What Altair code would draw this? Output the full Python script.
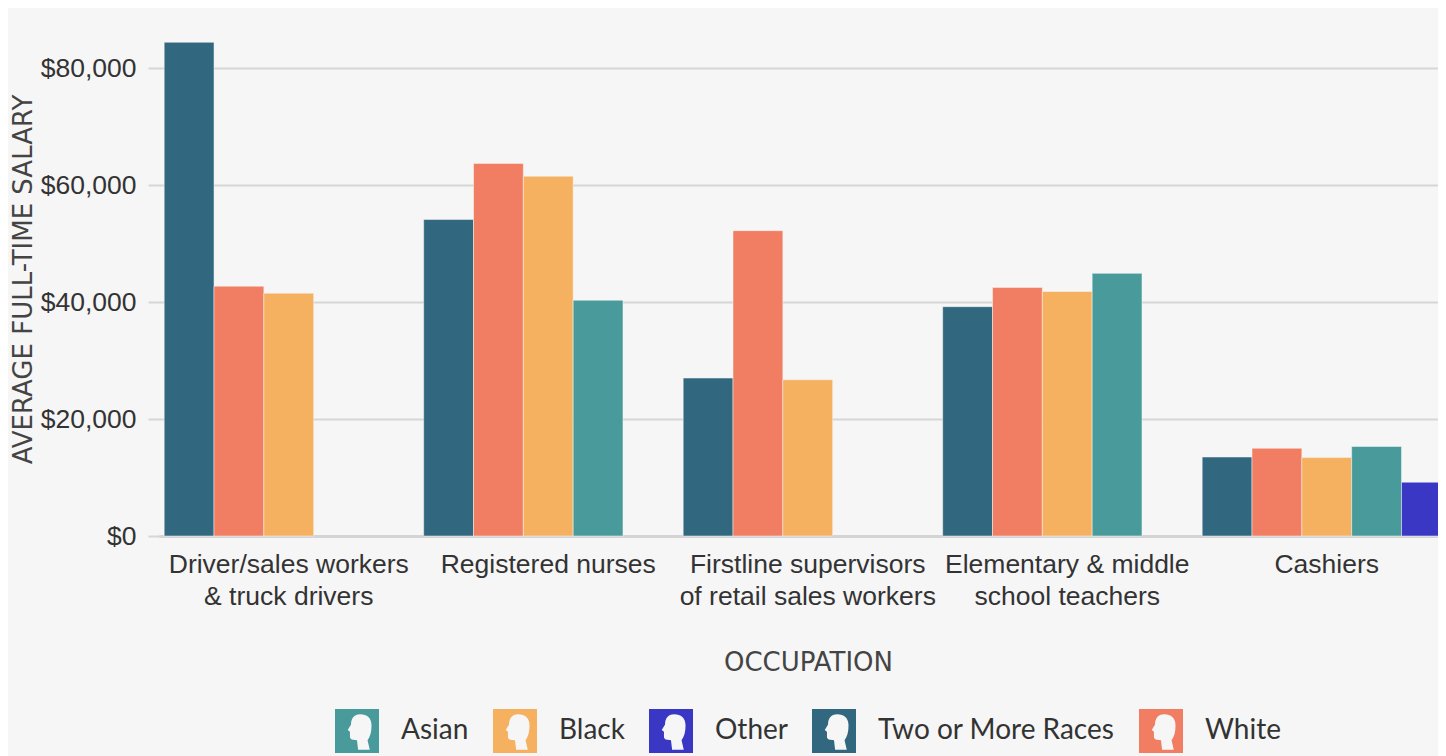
import altair as alt
import pandas as pd

labels = [["Driver/sales workers", "& truck drivers"], ["Registered nurses"], ["Firstline supervisors", "of retail sales workers"], ["Elementary & middle", "school teachers"], ["Cashiers"]]
races = ["Two or More Races", "White", "Black", "Asian", "Other"]
legend_order = ["Asian", "Black", "Other", "Two or More Races", "White"]
colors = ["#499b9b", "#f5b160", "#3a37c4", "#31677f", "#f17e63"]
two = [84400, 54100, 27000, 39200, 13500]
white = [42700, 63700, 52200, 42500, 15000]
black = [41500, 61500, 26700, 41800, 13400]
asian = [None, 40300, None, 44900, 15300]
other = [None, None, None, None, 9200]

# square with a head-shaped hole (opposite winding)
head_symbol = ("M-1,-1L1,-1L1,1L-1,1Z "
               "M0.15,-0.76 C-0.15,-0.76 -0.27,-0.55 -0.27,-0.3 L-0.42,-0.05 L-0.32,0.03 L-0.32,0.3 "
               "C-0.28,0.42 -0.12,0.4 0,0.42 L0.05,0.85 L0.58,0.85 L0.48,0.42 "
               "C0.6,0.25 0.66,0.05 0.66,-0.25 C0.66,-0.6 0.45,-0.76 0.15,-0.76Z")

rows = []
for name, vals in zip(races, [two, white, black, asian, other]):
    for i, v in enumerate(vals):
        if v is not None:
            rows.append({"occ": i, "race": name, "value": v})
df = pd.DataFrame(rows)

label_expr = "[" + ",".join(str(l) for l in labels) + "][datum.value]"

chart = alt.Chart(df).mark_bar(stroke="#f6f6f6", strokeWidth=0.5).encode(
    x=alt.X("occ:O", scale=alt.Scale(domain=[0, 1, 2, 3, 4], paddingInner=0.04, paddingOuter=0.02, range=[-1, 1296.5]),
            axis=alt.Axis(title="OCCUPATION", labelExpr=label_expr, labelAngle=0, labelFont="Liberation Sans", labelFontSize=26.5,
                          labelColor="#333333", labelLimit=500, labelOverlap=False, labelBound=False, labelFlush=False,
                          titleFont="DejaVu Sans", titleFontSize=26, titleFontWeight="normal", titleColor="#444444",
                          titleX=648, titleY=134, titleBaseline="alphabetic",
                          tickSize=0, labelPadding=15, domainColor="#d4d4d4", domainWidth=3, labelLineHeight=32)),
    xOffset=alt.XOffset("race:N", sort=races),
    y=alt.Y("value:Q", scale=alt.Scale(domain=[0, 84450], nice=False),
            axis=alt.Axis(title="AVERAGE FULL-TIME SALARY", values=[0, 20000, 40000, 60000, 80000], format="$,d", labelFont="Liberation Sans",
                          labelFontSize=26.5, labelColor="#333333", titleFont="DejaVu Sans", titleFontSize=26, titleFontWeight="normal",
                          titleColor="#444444", titleX=-123.5, titleY=237, gridColor="#d6d6d6", gridWidth=2, domain=False,
                          tickSize=12, tickColor="#d6d6d6", tickWidth=2, labelPadding=12)),
    color=alt.Color("race:N", scale=alt.Scale(domain=legend_order, range=colors),
                    legend=alt.Legend(orient="none", legendX=175, legendY=667, title=None, labelFont="Lato", labelFontSize=28,
                                      labelColor="#333333", symbolType=head_symbol, symbolSize=1936, symbolStrokeWidth=0,
                                      direction="horizontal", columns=5, columnPadding=24, labelOffset=22, labelLimit=400, symbolOpacity=1)),
).properties(width=1278, height=494, background="#f6f6f6",
             padding={"left": 152, "top": 34, "right": 0, "bottom": 220},
             autosize=alt.AutoSizeParams(type="none"))

chart = chart.configure_view(stroke=None)
chart.save("out.html", embed_options={"renderer": "svg", "actions": False})
